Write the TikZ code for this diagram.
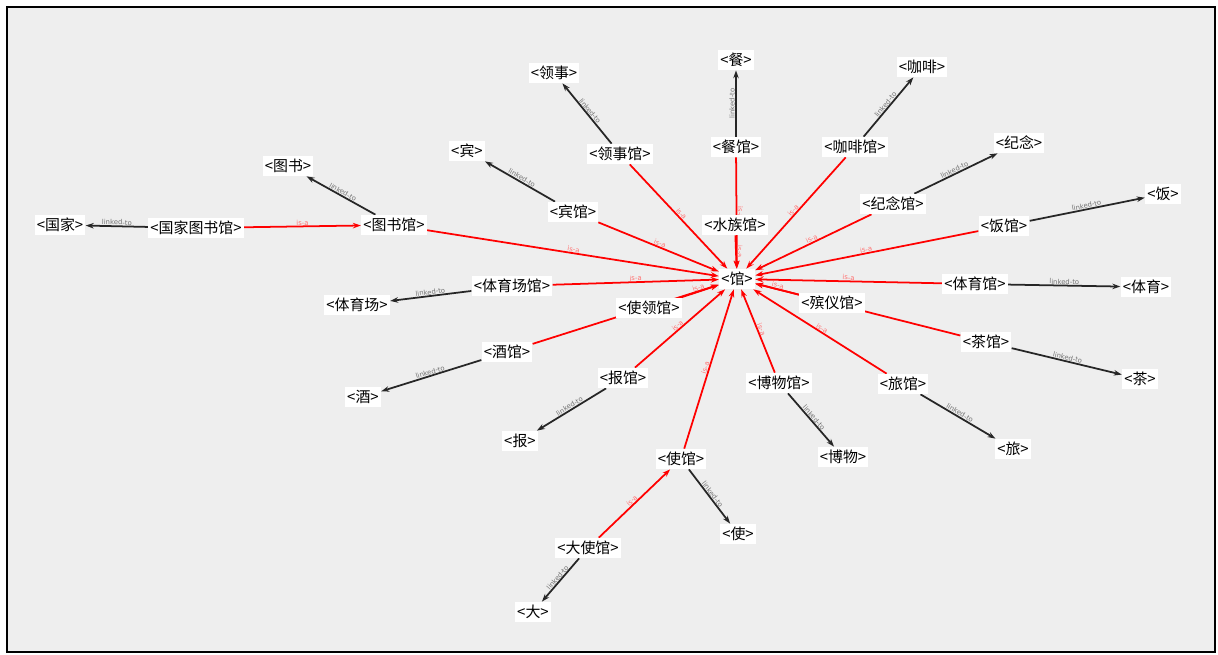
\documentclass[tikz,border=0pt]{standalone}
\usepackage{fontspec}
\setmainfont{DejaVu Sans}
\newfontfamily\cjkfont{Noto Sans CJK SC}
\usetikzlibrary{arrows.meta}
\definecolor{canvas}{RGB}{238,238,238}
\pgfdeclarelayer{edges}
\pgfsetlayers{edges,main}

\begin{document}
\begin{tikzpicture}[
    x=0.02cm, y=-0.02cm,
    term/.style={rectangle, fill=white, font=\cjkfont\fontsize{8.5}{9}\selectfont, inner xsep=1.2pt, inner ysep=1pt, minimum height=0.4cm},
    isa/.style={draw=red, line width=1pt, -{Stealth[length=1.6mm, width=1.1mm]}},
    link/.style={draw=black!85, line width=1pt, -{Stealth[length=1.6mm, width=1.1mm]}},
    isalabel/.style={midway, sloped, above, inner sep=0.2pt, font=\fontsize{3.9}{4.5}\selectfont, text=red!55},
    linklabel/.style={midway, sloped, above, inner sep=0.2pt, font=\fontsize{3.9}{4.5}\selectfont, text=black!55}
]
\useasboundingbox (0,0) rectangle (1218,655);

% Centre
\node[term] (guan) at (737, 279) {<馆>};

% Left side
\node[term] (guojia) at (60, 225) {<国家>};
\node[term] (guojiatsg) at (196, 228) {<国家图书馆>};
\node[term] (tushu) at (288, 166) {<图书>};
\node[term] (tushuguan) at (394, 225) {<图书馆>};
\node[term] (tiyuchang) at (357, 305) {<体育场>};
\node[term] (tiyuchangguan) at (512, 286) {<体育场馆>};
\node[term] (jiu) at (363, 397) {<酒>};
\node[term] (jiuguan) at (507, 352) {<酒馆>};
\node[term] (shilingguan) at (649, 308) {<使领馆>};
\node[term] (bao) at (520, 441) {<报>};
\node[term] (baoguan) at (623, 378) {<报馆>};
\node[term] (shiguan) at (681, 459) {<使馆>};
\node[term] (shi) at (738, 534) {<使>};
\node[term] (dashiguan) at (588, 548) {<大使馆>};
\node[term] (da) at (533, 612) {<大>};

% Top
\node[term] (bin) at (467, 151) {<宾>};
\node[term] (binguan) at (573, 212) {<宾馆>};
\node[term] (lingshi) at (554, 73) {<领事>};
\node[term] (lingshiguan) at (620, 154) {<领事馆>};
\node[term] (can) at (736, 60) {<餐>};
\node[term] (canguan) at (736, 147) {<餐馆>};
\node[term] (shuizuguan) at (735, 225) {<水族馆>};
\node[term] (kafei) at (922, 67) {<咖啡>};
\node[term] (kafeiguan) at (855, 147) {<咖啡馆>};
\node[term] (jinian) at (1019, 143) {<纪念>};
\node[term] (jinianguan) at (893, 204) {<纪念馆>};

% Right side
\node[term] (fan) at (1163, 194) {<饭>};
\node[term] (fanguan) at (1004, 226) {<饭馆>};
\node[term] (tiyuguan) at (975, 284) {<体育馆>};
\node[term] (tiyu) at (1146, 287) {<体育>};
\node[term] (binyiguan) at (832, 303) {<殡仪馆>};
\node[term] (chaguan) at (986, 342) {<茶馆>};
\node[term] (cha) at (1140, 379) {<茶>};
\node[term] (lvguan) at (903, 384) {<旅馆>};
\node[term] (lv) at (1013, 449) {<旅>};
\node[term] (bowuguan) at (779, 383) {<博物馆>};
\node[term] (bowu) at (843, 457) {<博物>};

\begin{pgfonlayer}{edges}
% Canvas
\draw[line width=1.2pt, fill=canvas] (7,7) rectangle (1215,652);

% is-a
\foreach \src in {tushuguan, binguan, lingshiguan, canguan, shuizuguan, kafeiguan,
    jinianguan, fanguan, tiyuguan, binyiguan, chaguan, lvguan, bowuguan, shiguan,
    baoguan, shilingguan, jiuguan, tiyuchangguan}
    \draw[isa] (\src) -- (guan) node[isalabel] {is-a};
\draw[isa] (guojiatsg) -- (tushuguan) node[isalabel] {is-a};
\draw[isa] (dashiguan) -- (shiguan) node[isalabel] {is-a};

% linked-to
\foreach \src/\dst in {guojiatsg/guojia, tushuguan/tushu, binguan/bin, lingshiguan/lingshi,
    canguan/can, kafeiguan/kafei, jinianguan/jinian, fanguan/fan, tiyuguan/tiyu,
    chaguan/cha, lvguan/lv, bowuguan/bowu, shiguan/shi, dashiguan/da, baoguan/bao,
    jiuguan/jiu, tiyuchangguan/tiyuchang}
    \draw[link] (\src) -- (\dst) node[linklabel] {linked-to};
\end{pgfonlayer}

\end{tikzpicture}
\end{document}
